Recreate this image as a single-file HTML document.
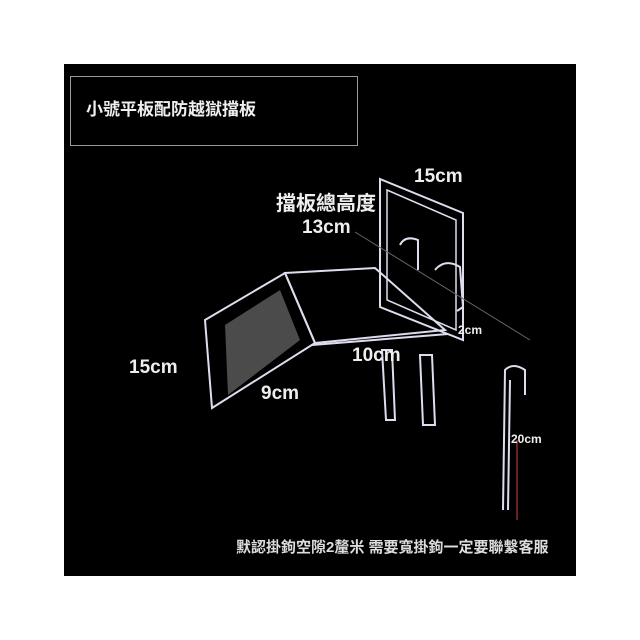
<!DOCTYPE html>
<html><head><meta charset="utf-8"><style>
html,body{margin:0;padding:0;background:#fff;}
.w{position:relative;width:640px;height:640px;overflow:hidden;background:#fff;font-family:"Liberation Sans","Noto Sans CJK TC",sans-serif;}
.bk{position:absolute;left:64px;top:64px;width:512px;height:512px;background:#000;}
.t{position:absolute;color:#eee;font-weight:bold;white-space:nowrap;line-height:1;}
</style></head><body><div class="w">
<div class="bk"></div>
<div style="position:absolute;left:70px;top:76px;width:286px;height:68px;border:1px solid #999;"></div>
<svg style="position:absolute;left:0;top:0" width="640" height="640">
<g fill="none" stroke="#dde" stroke-width="2">
<polygon points="380,179 463,213 463,340 380,307"/>
<polygon points="387,190 456,220 456,330 387,300" stroke-width="1.5"/>
<polygon points="205,320 285,273 315,343 212,408"/>
<polygon points="285,273 375,268 445,330 315,343"/>
<line x1="312" y1="345" x2="448" y2="334"/>
<polygon points="382,350 392,350 395,420 386,420"/>
<polygon points="420,355 432,355 435,425 423,425"/>
<path d="M400,245 q5,-10 18,-5 l0,30"/>
<path d="M435,270 q10,-12 25,-3 l3,40 -6,4"/>
<path d="M503,510 l2,-140 q8,-8 20,0 l0,25" />
<line x1="510" y1="380" x2="508" y2="510"/>
</g>
<polygon points="225,325 280,290 300,340 228,395" fill="#888" opacity=".55"/>
<line x1="355" y1="232" x2="530" y2="340" stroke="#666" stroke-width="1"/>
<line x1="517" y1="440" x2="517" y2="520" stroke="#c44" stroke-width="1"/>
</svg>
<div class="t" style="left:86px;top:101px;font-size:17px;">小號平板配防越獄擋板</div>
<div class="t" style="left:414px;top:167px;font-size:19px;">15cm</div>
<div class="t" style="left:276px;top:194px;font-size:20px;">擋板總高度</div>
<div class="t" style="left:302px;top:218px;font-size:19px;">13cm</div>
<div class="t" style="left:458px;top:324px;font-size:12px;">2cm</div>
<div class="t" style="left:352px;top:346px;font-size:19px;">10cm</div>
<div class="t" style="left:129px;top:358px;font-size:19px;">15cm</div>
<div class="t" style="left:261px;top:384px;font-size:19px;">9cm</div>
<div class="t" style="left:511px;top:433px;font-size:12px;">20cm</div>
<div class="t" style="left:236px;top:540px;font-size:15px;color:#ddd;">默認掛鉤空隙2釐米 需要寬掛鉤一定要聯繫客服</div>
</div></body></html>
